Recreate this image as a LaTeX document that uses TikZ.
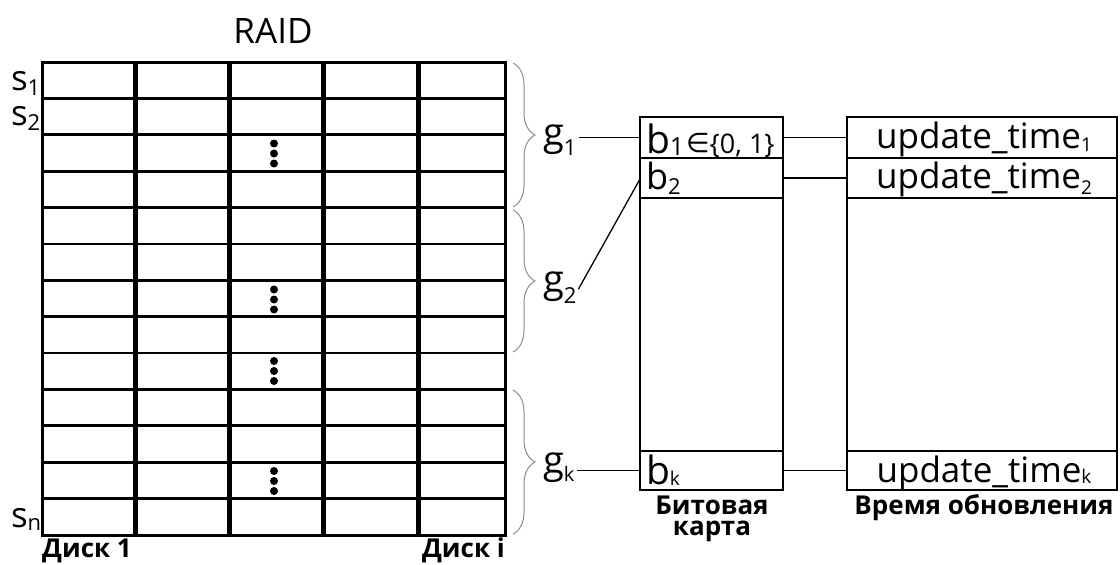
\documentclass[tikz,border=0pt]{standalone}
\usepackage{fontspec}
\usepackage{graphicx}
\setmainfont{Open Sans}
\newfontfamily\dejavu{DejaVu Sans}
\usetikzlibrary{decorations.pathreplacing}
\newcommand{\fsz}[1]{\fontsize{#1}{#1}\selectfont}
\newcommand{\lsub}[3]{\raisebox{-#2pt}{\fsz{#1}#3}}
\begin{document}
\begin{tikzpicture}[x=1pt,y=-1pt,
  hline/.style={line width=2.8pt},
  vline/.style={line width=5pt},
  border/.style={line width=3pt},
  grpbrace/.style={draw=black!45, line width=1pt, decorate, decoration={brace, amplitude=22pt}},
  cell/.style={draw, line width=1.8pt, inner sep=0pt, outer sep=0pt},
  bcell/.style={cell, minimum width=143pt},
  tcell/.style={cell, minimum width=270pt},
  lbl/.style={inner sep=0pt, outer sep=0pt},
  conn/.style={line width=1.3pt},
  caplbl/.style={inner sep=0pt, font=\bfseries\fontsize{26}{21}\selectfont}]
\useasboundingbox (0,0) rectangle (1120,565);

% RAID grid
\foreach \i in {1,...,12} \draw[hline] (42,{62+36.385*\i}) -- (505,{62+36.385*\i});
\foreach \x in {135,229,323,418} \draw[vline] (\x,62) -- (\x,535);
\draw[border] (42,62) rectangle (505,535);

% dots
\foreach \y in {153.5,299.5,371,481}
  \foreach \d in {-10,0,10}
    \fill (274,{\y+\d}) circle [radius=4pt];

\node[lbl, anchor=base] (raid) at (273,43) {\fsz{35}RAID};

\node[lbl, anchor=base west] (s1) at (11,90) {\fsz{35}s\lsub{22}{5}{1}};
\node[lbl, anchor=base west] (s2) at (11,125) {\fsz{35}s\lsub{22}{5}{2}};
\node[lbl, anchor=base west] (sn) at (11,527) {\fsz{35}s\lsub{22}{3}{n}};

\node[caplbl, anchor=base west] (d1) at (42,557) {Диск 1};
\node[caplbl, anchor=base east] (di) at (505,557) {Диск i};

% braces
\draw[grpbrace] (513,63) -- (513,207);
\draw[grpbrace] (513,210) -- (513,352);
\draw[grpbrace] (513,390) -- (513,534);

\node[lbl, anchor=base west] (g1) at (543,145) {\fsz{38}g\lsub{22}{10}{1}};
\node[lbl, anchor=base west] (g2) at (543,292) {\fsz{38}g\lsub{22}{11}{2}};
\node[lbl, anchor=base west] (gk) at (543,473) {\fsz{38}g\lsub{20}{8}{k}};

% bitmap
\node[bcell, minimum height=41pt] (b1) at (711.5,137.5) {};
\node[bcell, minimum height=40pt] (b2) at (711.5,178) {};
\node[bcell, minimum height=253pt] (bm) at (711.5,324.5) {};
\node[bcell, minimum height=39pt] (bk) at (711.5,470.5) {};

\node[lbl, anchor=base west] (b1t) at (646,153) {\fsz{39}b\lsub{25}{2}{1}\hspace{2pt}{\dejavu\fsz{27}\raisebox{1pt}{∈}}\fsz{27}\{0, 1\}};
\node[lbl, anchor=base west] (b2t) at (646,189) {\fsz{36}b\lsub{22}{5}{2}};
\node[lbl, anchor=base west] (bkt) at (646,484) {\fsz{39}b\lsub{19}{1}{k}};

\node[caplbl, anchor=base, align=center] (bcap) at (712,535) {Битовая\\карта};

% update time
\node[tcell, minimum height=41pt] (t1) at (982,137.5) {};
\node[tcell, minimum height=40pt] (t2) at (982,178) {};
\node[tcell, minimum height=253pt] (tm) at (982,324.5) {};
\node[tcell, minimum height=39pt] (tk) at (982,470.5) {};

\node[lbl, anchor=base] (t1t) at (984,148) {\fsz{35}update\_time\lsub{19}{3}{1}};
\node[lbl, anchor=base] (t2t) at (984,188) {\fsz{35}update\_time\lsub{19}{6}{2}};
\node[lbl, anchor=base] (tkt) at (984,482) {\fsz{35}update\_time\lsub{19}{1}{k}};

\node[caplbl, anchor=base] (tcap) at (984,514) {Время обновления};

% connectors
\draw[conn] ([xshift=3pt]g1.east |- b1.west) -- (b1.west);
\draw[conn] ([xshift=2pt,yshift=-2pt]g2.east) -- ([yshift=-1pt]b2.west);
\draw[conn] ([xshift=3pt]gk.east |- bk.west) -- (bk.west);
\draw[conn] (b1.east) -- (t1.west);
\draw[conn] (b2.east) -- (t2.west);
\draw[conn] (bk.east) -- (tk.west);
\end{tikzpicture}
\end{document}
